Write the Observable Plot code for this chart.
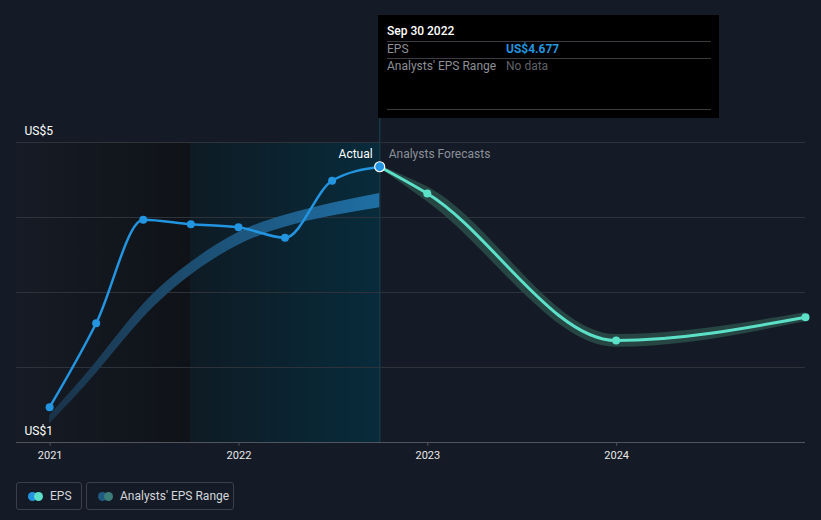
<!DOCTYPE html>
<html>
<head>
<meta charset="utf-8">
<script src="https://cdn.jsdelivr.net/npm/d3@7"></script>
<script src="https://cdn.jsdelivr.net/npm/@observablehq/plot@0.6"></script>
<style>
  html, body { margin: 0; padding: 0; background: #151b26; }
  body { width: 821px; height: 520px; position: relative; overflow: hidden; font-family: Roboto, "Open Sans", sans-serif; }
  #chart { position: absolute; left: 0; top: 0; }
  .tip { position: absolute; left: 378px; top: 15px; width: 341px; height: 103px; background: #000; }
  .tip .t { position: absolute; font-size: 12px; line-height: 14px; white-space: nowrap; }
  .tip .hr { position: absolute; left: 9px; width: 324px; height: 1px; background: #3b3d42; }
  .leg { position: absolute; top: 482px; height: 26px; border: 1px solid #3a3f4a; border-radius: 3px; box-sizing: content-box; }
  .leg .dot { position: absolute; top: 8.5px; width: 9px; height: 9px; border-radius: 50%; }
  .leg .lt { position: absolute; top: 6px; font-size: 12px; line-height: 14px; color: #d4d6da; white-space: nowrap; }
</style>
</head>
<body>
<div id="chart"></div>

<div class="tip">
  <div class="t" style="left:9px;top:9px;color:#fff;font-weight:500;">Sep 30 2022</div>
  <div class="hr" style="top:26px"></div>
  <div class="t" style="left:9px;top:27px;color:#8c8f95;">EPS</div>
  <div class="t" style="left:128px;top:27px;color:#2394df;font-weight:700;">US$4.677</div>
  <div class="hr" style="top:43px"></div>
  <div class="t" style="left:9px;top:44px;color:#8c8f95;">Analysts' EPS Range</div>
  <div class="t" style="left:128px;top:44px;color:#5f6268;">No data</div>
  <div class="hr" style="top:94px"></div>
</div>

<div class="leg" style="left:16px;width:64px;">
  <div class="dot" style="left:11px;background:#2394df"></div>
  <div class="dot" style="left:17px;background:#5ce0c8"></div>
  <div class="lt" style="left:33px">EPS</div>
</div>
<div class="leg" style="left:86px;width:146px;">
  <div class="dot" style="left:11px;background:#1f5a82"></div>
  <div class="dot" style="left:17px;background:#3c7c79"></div>
  <div class="lt" style="left:33px">Analysts' EPS Range</div>
</div>

<script>
// ---- data ----
const actualDates = ["2020-12-31","2021-03-31","2021-06-30","2021-09-30","2021-12-31","2022-03-31","2022-06-30","2022-09-30"];
const actualEps   = [1.47, 2.59, 3.97, 3.91, 3.87, 3.73, 4.49, 4.677];

const pastBandLow  = [1.25, 1.92, 2.66, 3.23, 3.63, 3.87, 4.02, 4.13];
const pastBandHigh = [1.36, 2.07, 2.84, 3.40, 3.80, 4.03, 4.19, 4.32];

const forecastDates = ["2022-09-30","2022-12-31","2023-12-31","2024-12-31"];
const forecastEps   = [4.677, 4.32, 2.36, 2.67];
const forecastLow   = [4.66, 4.21, 2.27, 2.61];
const forecastHigh  = [4.69, 4.41, 2.44, 2.73];

const yearTicks = ["2021-01-01","2022-01-01","2023-01-01","2024-01-01"];
const yTickValues = [5, 1];
const yTickLabels = ["US$5", "US$1"];
const gridValues = [2, 3, 4, 5];

const xDomain = ["2020-10-28", "2024-12-31"];
const regions = [
  {x1: "2020-10-28", x2: "2021-09-30", fill: "url(#gDark)"},
  {x1: "2021-09-30", x2: "2022-09-30", fill: "url(#gTeal)"}
];

const D = s => new Date(s + "T00:00:00Z");
const actual = actualDates.map((d, i) => ({date: D(d), eps: actualEps[i], lo: pastBandLow[i], hi: pastBandHigh[i]}));
const forecast = forecastDates.map((d, i) => ({date: D(d), eps: forecastEps[i], lo: forecastLow[i], hi: forecastHigh[i]}));
const nowDate = D("2022-09-30");
const yearDates = yearTicks.map(D);

const svg = Plot.plot({
  width: 821,
  height: 470,
  marginLeft: 16,
  marginRight: 16,
  marginTop: 142,
  marginBottom: 28,
  style: {background: "#151b26", fontFamily: "Roboto, sans-serif", overflow: "visible"},
  x: {type: "utc", domain: xDomain.map(D), axis: null},
  y: {type: "linear", domain: [1, 5], axis: null},
  marks: [
    Plot.rect(regions, {x1: d => D(d.x1), x2: d => D(d.x2), y1: () => 1, y2: () => 5, fill: d => d.fill}),
    Plot.ruleY(gridValues, {stroke: "#2d323b", strokeWidth: 1}),
    Plot.ruleY([1], {stroke: "#50555e", strokeWidth: 1}),
    Plot.ruleX([nowDate], {y1: () => 1, y2: () => 5.32, stroke: "#173646", strokeWidth: 1.5}),
    Plot.areaY(actual, {x: "date", y1: "lo", y2: "hi", curve: "natural", fill: "url(#gBlue)"}),
    Plot.areaY(forecast, {x: "date", y1: "lo", y2: "hi", curve: "monotone-x", fill: "#264543"}),
    Plot.line(forecast, {x: "date", y: "eps", curve: "monotone-x", stroke: "#5ce0c8", strokeWidth: 3}),
    Plot.line(actual, {x: "date", y: "eps", curve: "monotone-x", stroke: "#2394df", strokeWidth: 2.5}),
    Plot.dot(forecast.slice(1), {x: "date", y: "eps", r: 4, fill: "#5ce0c8"}),
    Plot.dot(actual.slice(0, -1), {x: "date", y: "eps", r: 4, fill: "#2394df"}),
    Plot.dot(actual.slice(-1), {x: "date", y: "eps", r: 5, fill: "#2394df", stroke: "#ffffff", strokeWidth: 1.2}),
    Plot.text(["Actual"], {x: () => nowDate, y: () => 4.84, dx: -7, textAnchor: "end", fill: "#ffffff", fontSize: 12}),
    Plot.text(["Analysts Forecasts"], {x: () => nowDate, y: () => 4.84, dx: 9, textAnchor: "start", fill: "#8b9099", fontSize: 12}),
    Plot.text(yTickValues, {y: d => d, text: (d, i) => yTickLabels[i], frameAnchor: "left", dx: 8, dy: -11, textAnchor: "start", fill: "#ffffff", fontSize: 12}),
    Plot.ruleX(yearDates, {x: d => d, y1: () => 1, y2: () => 0.95, stroke: "#50555e", strokeWidth: 1}),
    Plot.text(yearDates, {x: d => d, y: () => 1, dy: 13, text: d => d3.utcFormat("%Y")(d), fill: "#e8e8e8", fontSize: 11})
  ]
});

// gradient definitions
const defs = d3.select(svg).insert("defs", ":first-child");
function grad(id, c1, c2) {
  const g = defs.append("linearGradient").attr("id", id).attr("x1", "0").attr("x2", "1").attr("y1", "0").attr("y2", "0");
  g.append("stop").attr("offset", "0").attr("stop-color", c1);
  g.append("stop").attr("offset", "1").attr("stop-color", c2);
}
grad("gDark", "#161b25", "#0f1318");
grad("gTeal", "#0e1b24", "#082b3b");
grad("gBlue", "#1a3349", "#1f6fa4");

document.getElementById("chart").appendChild(svg);
</script>
</body>
</html>
